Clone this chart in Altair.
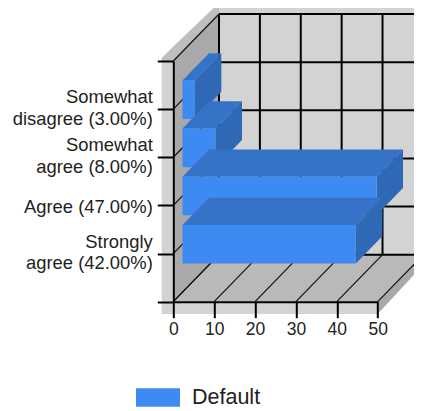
import altair as alt
import pandas as pd

# --- data, bottom to top
categories = ["Strongly agree", "Agree", "Somewhat agree", "Somewhat disagree"]
percent = [42, 47, 8, 3]
label_lines = [["Strongly", "agree (42.00%)"], ["Agree (47.00%)"],
               ["Somewhat", "agree (8.00%)"], ["Somewhat", "disagree (3.00%)"]]
x_ticks = [0, 10, 20, 30, 40, 50]
y_ticks = [0, 1, 2, 3, 4, 5]
series_name = "Default"

# --- plot geometry
PLOT_W, PLOT_H = 204.4, 240.7
XMAX, YMAX = 50, 5
PX = XMAX / PLOT_W      # x units per pixel
PY = YMAX / PLOT_H      # y units per pixel
WX, WY = 45.7 * PX, 47 * PY            # shift of the whole depth of the box
BACK_XMAX = 52          # back wall runs past the picture edge
D0, D1 = 0.2, 0.78      # depth range of the bars
BAR_H = 0.8             # bar thickness in category units
GAIN = 1.01


def vband(points):
    """points: (x, ytop, ybottom)"""
    return pd.DataFrame([{"x": a, "y": b, "y2": c} for a, b, c in points])


def hband(points):
    """points: (y, xleft, xright)"""
    return pd.DataFrame([{"y": a, "x": b, "x2": c} for a, b, c in points])


XS = alt.Scale(domain=[0, XMAX], nice=False, clamp=False)
YS = alt.Scale(domain=[0, YMAX], nice=False, clamp=False)
expr = "''"
for i, lines in enumerate(label_lines, start=1):
    arr = "[" + ",".join(f"'{s}'" for s in lines) + "]"
    expr = f"datum.value=={i}?{arr}:({expr})"
X = alt.X("x:Q", scale=XS,
          axis=alt.Axis(values=x_ticks, title=None, grid=False, tickSize=16, tickWidth=2,
                        tickColor="#000", domainColor="#000", domainWidth=2,
                        labelFont="Liberation Sans", labelFontSize=17.5, labelColor="#222",
                        labelPadding=3, labelFlush=False, zindex=1))
Y = alt.Y("y:Q", scale=YS,
          axis=alt.Axis(values=y_ticks, title=None, grid=False, tickSize=16, tickWidth=2,
                        tickColor="#000", domainColor="#000", domainWidth=2,
                        labelFont="Liberation Sans", labelFontSize=18.4, labelColor="#222",
                        labelPadding=5, labelLineHeight=21.7, labelExpr=expr, zindex=1,
                        labelOffset={"condition": {"test": "datum.value==2", "value": 1}, "value": -12.5}))
Y2 = alt.Y2("y2:Q")
X2 = alt.X2("x2:Q")


def varea(points, color):
    return alt.Chart(vband(points)).mark_area(color=color, opacity=1, fillOpacity=1).encode(x=X, y=Y, y2=Y2)


def harea(points, color):
    return alt.Chart(hband(points)).mark_area(color=color, opacity=1, fillOpacity=1, orient="horizontal").encode(y=Y, x=X, x2=X2)


# --- box shell
strip_l = 11.6 * PX
strip_b = 12.3 * PY
strip_t = 7.3 * PY
shell = [
    varea([(-strip_l, YMAX + 3 * PY, -strip_b), (0, YMAX + 3 * PY, -strip_b)], "#D3D3D3"),
    varea([(0, 0, -strip_b), (XMAX, 0, -strip_b)], "#D3D3D3"),
    varea([(-strip_l, YMAX + 3 * PY, YMAX),
           (0, YMAX + 14.5 * PY, YMAX),
           (WX - 4 * PX, YMAX + WY + strip_t, YMAX + WY - 4 * PY),
           (WX, YMAX + WY + strip_t, YMAX + WY)], "#BEBEBE"),
    varea([(WX, YMAX + WY + strip_t, YMAX + WY), (WX + BACK_XMAX, YMAX + WY + strip_t, YMAX + WY)], "#D3D3D3"),
    varea([(XMAX, 0, -strip_b), (XMAX + WX, WY, WY - 10 * PY)], "#A9A9A9"),
    varea([(WX, YMAX + WY, WY), (WX + BACK_XMAX, YMAX + WY, WY)], "#D3D3D3"),
    varea([(0, YMAX, 0), (WX, YMAX + WY, WY)], "#A9A9A9"),
    harea([(0, 0, XMAX), (WY, WX, XMAX + WX)], "#B9B9B9"),
]

# --- grid lines
back_rows, diag_rows = [], []
for k in range(6):
    back_rows += [{"g": f"v{k}", "x": WX + k * 10, "y": WY},
                  {"g": f"v{k}", "x": WX + k * 10, "y": WY + YMAX},
                  {"g": f"h{k}", "x": WX, "y": WY + k},
                  {"g": f"h{k}", "x": WX + BACK_XMAX, "y": WY + k}]
    diag_rows += [{"g": f"f{k}", "x": k * 10, "y": 0},
                  {"g": f"f{k}", "x": k * 10 + WX, "y": WY},
                  {"g": f"l{k}", "x": 0, "y": k},
                  {"g": f"l{k}", "x": WX, "y": WY + k}]
back_grid = alt.Chart(pd.DataFrame(back_rows)).mark_line(color="#000", strokeWidth=2).encode(x=X, y=Y, detail="g:N")
diag_grid = alt.Chart(pd.DataFrame(diag_rows)).mark_line(color="#111", strokeWidth=1.2).encode(x=X, y=Y, detail="g:N")

# --- bars, back (top) to front (bottom)
FRONT, TOP, SIDE = "#3D8AF2", "#3573C8", "#2F69B5"
bar_layers = []
for pos, v in reversed(list(enumerate(percent, start=1))):
    x0 = D0 * WX
    x1 = x0 + v * GAIN
    y0 = pos + D0 * WY - BAR_H / 2
    y1 = pos + D0 * WY + BAR_H / 2
    ddx = (D1 - D0) * WX
    ddy = (D1 - D0) * WY
    bar_layers.append(harea([(y1, x0, x1), (y1 + ddy, x0 + ddx, x1 + ddx)], TOP))
    bar_layers.append(varea([(x1, y1, y0), (x1 + ddx, y1 + ddy, y0 + ddy)], SIDE))
    front = pd.DataFrame([{"x": x0, "y": y1, "y2": y0, "series": series_name},
                          {"x": x1, "y": y1, "y2": y0, "series": series_name}])
    bar_layers.append(alt.Chart(front).mark_area(opacity=1, fillOpacity=1).encode(
        x=X, y=Y, y2=Y2,
        color=alt.Color("series:N", scale=alt.Scale(domain=[series_name], range=[FRONT]),
                        legend=alt.Legend(title=None, orient="none", legendX=-37.3, legendY=314.5,
                                          symbolType="M-1,-0.42H1V0.42H-1Z", symbolSize=1936,
                                          symbolStrokeWidth=0, symbolOpacity=1,
                                          labelFont="Liberation Sans", labelFontSize=21.5, labelColor="#222",
                                          labelOffset=12))))

chart = alt.layer(*shell, back_grid, diag_grid, *bar_layers).properties(
    width=PLOT_W, height=PLOT_H,
    padding={"left": 165.3, "top": 53, "right": 36.3, "bottom": 106.3},
    autosize=alt.AutoSizeParams(type="none"),
    background="white",
).configure_view(stroke=None)

chart.save("out.html", embed_options={"renderer": "svg", "actions": False})
